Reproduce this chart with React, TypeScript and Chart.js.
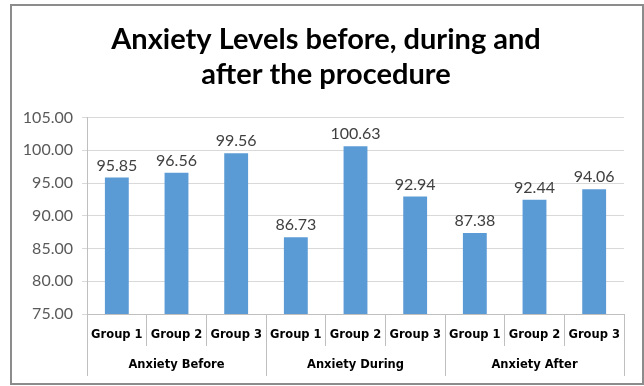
import React, { useEffect, useRef } from "react";
import { Chart, registerables } from "chart.js";

Chart.register(...registerables);

const TITLE_LINES = ["Anxiety Levels before, during and", "after the procedure"];
const CATEGORIES = ["Anxiety Before", "Anxiety During", "Anxiety After"];
const GROUPS = ["Group 1", "Group 2", "Group 3"];
const BEFORE = [95.85, 96.56, 99.56];
const DURING = [86.73, 100.63, 92.94];
const AFTER = [87.38, 92.44, 94.06];
const Y_MIN = 75;
const Y_MAX = 105;
const Y_STEP = 5;

const SERIES = [BEFORE, DURING, AFTER];

export default function App() {
  const ref = useRef<HTMLCanvasElement | null>(null);

  useEffect(() => {
    const canvas = ref.current;
    if (!canvas) return;

    const labels: string[] = [];
    const values: number[] = [];
    SERIES.forEach((s) => {
      s.forEach((v, i) => {
        labels.push(GROUPS[i]);
        values.push(v);
      });
    });

    const framePlugin = {
      id: "frame",
      beforeDraw(chart: any) {
        const ctx = chart.ctx;
        ctx.save();
        ctx.fillStyle = "#ffffff";
        ctx.fillRect(0, 0, chart.width, chart.height);
        ctx.strokeStyle = "#8c8c8c";
        ctx.lineWidth = 2;
        ctx.strokeRect(11, 5, 632, 379);
        ctx.restore();
      },
    };

    const labelPlugin = {
      id: "valueLabels",
      afterDatasetsDraw(chart: any) {
        const ctx = chart.ctx;
        const meta = chart.getDatasetMeta(0);
        ctx.save();
        ctx.font = "16px Lato";
        ctx.fillStyle = "#404040";
        ctx.textAlign = "center";
        ctx.textBaseline = "bottom";
        meta.data.forEach((el: any, i: number) => {
          const v = chart.data.datasets[0].data[i] as number;
          ctx.fillText(v.toFixed(2), el.x, el.y - 4);
        });
        ctx.restore();
      },
    };

    const categoryPlugin = {
      id: "categoryRow",
      afterDraw(chart: any) {
        const ctx = chart.ctx;
        const x = chart.scales.x;
        const bottom = chart.chartArea.bottom;
        const half = (x.getPixelForValue(1) - x.getPixelForValue(0)) / 2;
        ctx.save();
        ctx.strokeStyle = "#bfbfbf";
        ctx.lineWidth = 1;
        const n = GROUPS.length;
        for (let c = 0; c <= CATEGORIES.length; c++) {
          const idx = c * n;
          const px = Math.round(x.getPixelForValue(idx) - half) + 0.5;
          ctx.beginPath();
          ctx.moveTo(px, bottom);
          ctx.lineTo(px, bottom + 62);
          ctx.stroke();
        }
        ctx.font = "bold 11.5px 'DejaVu Sans'";
        ctx.fillStyle = "#000000";
        ctx.textAlign = "center";
        ctx.textBaseline = "middle";
        CATEGORIES.forEach((cat, c) => {
          const l = x.getPixelForValue(c * n) - half;
          const r = x.getPixelForValue(c * n + n - 1) + half;
          ctx.fillText(cat, (l + r) / 2, bottom + 51);
        });
        ctx.restore();
      },
    };

    const chart = new Chart(canvas, {
      type: "bar",
      data: {
        labels,
        datasets: [
          {
            data: values,
            backgroundColor: "#5B9BD5",
            borderWidth: 0,
            barPercentage: 0.4,
            categoryPercentage: 1,
            yAxisID: "y",
          },
        ],
      },
      options: {
        responsive: false,
        animation: false,
        layout: { padding: { top: 0, left: 8, right: 0, bottom: 0 } },
        plugins: {
          legend: { display: false },
          tooltip: { enabled: false },
          title: {
            display: true,
            text: TITLE_LINES,
            color: "#000000",
            font: { family: "Lato", size: 29, weight: "bold", lineHeight: 1.2 },
            padding: { top: 22, bottom: 26 },
          },
        },
        scales: {
          x: {
            grid: {
              display: true,
              drawOnChartArea: false,
              offset: true,
              tickLength: 32,
              color: "#bfbfbf",
            },
            border: { display: true, color: "#bfbfbf" },
            ticks: {
              autoSkip: false,
              maxRotation: 0,
              minRotation: 0,
              padding: -18,
              color: "#000000",
              font: { family: "DejaVu Sans", size: 11.5, weight: "bold" },
            },
            afterFit: (s: any) => {
              s.height = 72;
            },
          },
          y: {
            min: Y_MIN,
            max: Y_MAX,
            ticks: {
              stepSize: Y_STEP,
              padding: 9,
              color: "#595959",
              font: { family: "Lato", size: 16 },
              callback: (v: any) => Number(v).toFixed(2),
            },
            grid: { color: "#d9d9d9", tickLength: 5 },
            border: { display: true, color: "#bfbfbf" },
            afterFit: (s: any) => {
              s.width = 79;
            },
          },
          rightSpace: {
            position: "right",
            display: true,
            grid: { display: false },
            border: { display: false },
            ticks: { display: false },
            afterFit: (s: any) => {
              s.width = 20;
            },
          },
        },
      },
      plugins: [framePlugin, labelPlugin, categoryPlugin],
    });

    return () => chart.destroy();
  }, []);

  return (
    <canvas
      ref={ref}
      width={644}
      height={386}
      style={{ position: "fixed", left: 0, top: 0, display: "block" }}
    />
  );
}
